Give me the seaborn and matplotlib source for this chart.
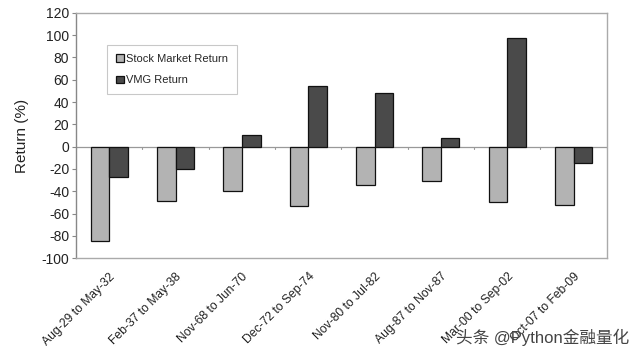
import matplotlib
matplotlib.use("Agg")
import matplotlib.pyplot as plt
import seaborn as sns
import pandas as pd

periods = ["Aug-29 to May-32", "Feb-37 to May-38", "Nov-68 to Jun-70", "Dec-72 to Sep-74",
           "Nov-80 to Jul-82", "Aug-87 to Nov-87", "Mar-00 to Sep-02", "Oct-07 to Feb-09"]
stock_returns = [-85, -49, -40, -53, -34, -31, -50, -52]
vmg_returns = [-27, -20, 10, 54, 48, 8, 97, -15]
series_names = ["Stock Market Return", "VMG Return"]
yticks = list(range(-100, 121, 20))

df = pd.DataFrame({
    "Period": periods * 2,
    "Return": stock_returns + vmg_returns,
    "Series": [series_names[0]] * len(periods) + [series_names[1]] * len(periods),
})

sns.set_style("white")
plt.rcParams['font.family'] = ['Liberation Sans', 'Noto Sans CJK SC', 'DejaVu Sans']
plt.rcParams['axes.unicode_minus'] = False

fig = plt.figure(figsize=(6.4, 3.57), dpi=100)
ax = fig.add_axes([0.119, 0.277, 0.829, 0.687])

sns.barplot(data=df, x="Period", y="Return", hue="Series", order=periods,
            hue_order=series_names, palette=["#b3b3b3", "#4a4a4a"],
            width=0.56, gap=0, edgecolor="#111111", linewidth=0.9,
            saturation=1, ax=ax, legend=True)

ax.set_ylim(-100, 120)
ax.set_yticks(yticks)
ax.set_xlim(-0.5, len(periods) - 0.5)
ax.axhline(0, color="#999999", lw=0.9, zorder=0)
# small category boundary ticks on the zero line
for b in range(len(periods) + 1):
    ax.plot([b - 0.5, b - 0.5], [0, -1.8], color="#999999", lw=0.8, zorder=0)

for s in ["top", "right", "bottom", "left"]:
    ax.spines[s].set_color("#aaaaaa")
    ax.spines[s].set_linewidth(1.0)
ax.spines["left"].set_color("#888888")

ax.tick_params(axis="y", length=3, width=0.8, color="#888888", left=True,
               labelsize=10, colors="#222222", pad=2)
ax.tick_params(axis="x", length=0, labelsize=8.7, colors="#222222", pad=9)
for lbl in ax.get_xticklabels():
    lbl.set_rotation(45)
    lbl.set_ha("right")
    lbl.set_rotation_mode("anchor")

ax.set_xlabel("")
ax.set_ylabel("Return (%)", fontsize=11, color="#222222", labelpad=9)

leg = ax.legend(loc="upper left", bbox_to_anchor=(0.048, 0.89), frameon=True,
                fontsize=8, handlelength=0.7, handleheight=0.7, handletextpad=0.2,
                borderpad=0.8, labelspacing=1.0, fancybox=False)
leg.get_frame().set_edgecolor("#bbbbbb")
leg.get_frame().set_linewidth(0.8)

fig.text(0.983, 0.03, "头条 @Python金融量化", ha="right", va="bottom",
         fontsize=12, color="#444444")

fig.savefig("out.png", dpi=100, facecolor="white")
